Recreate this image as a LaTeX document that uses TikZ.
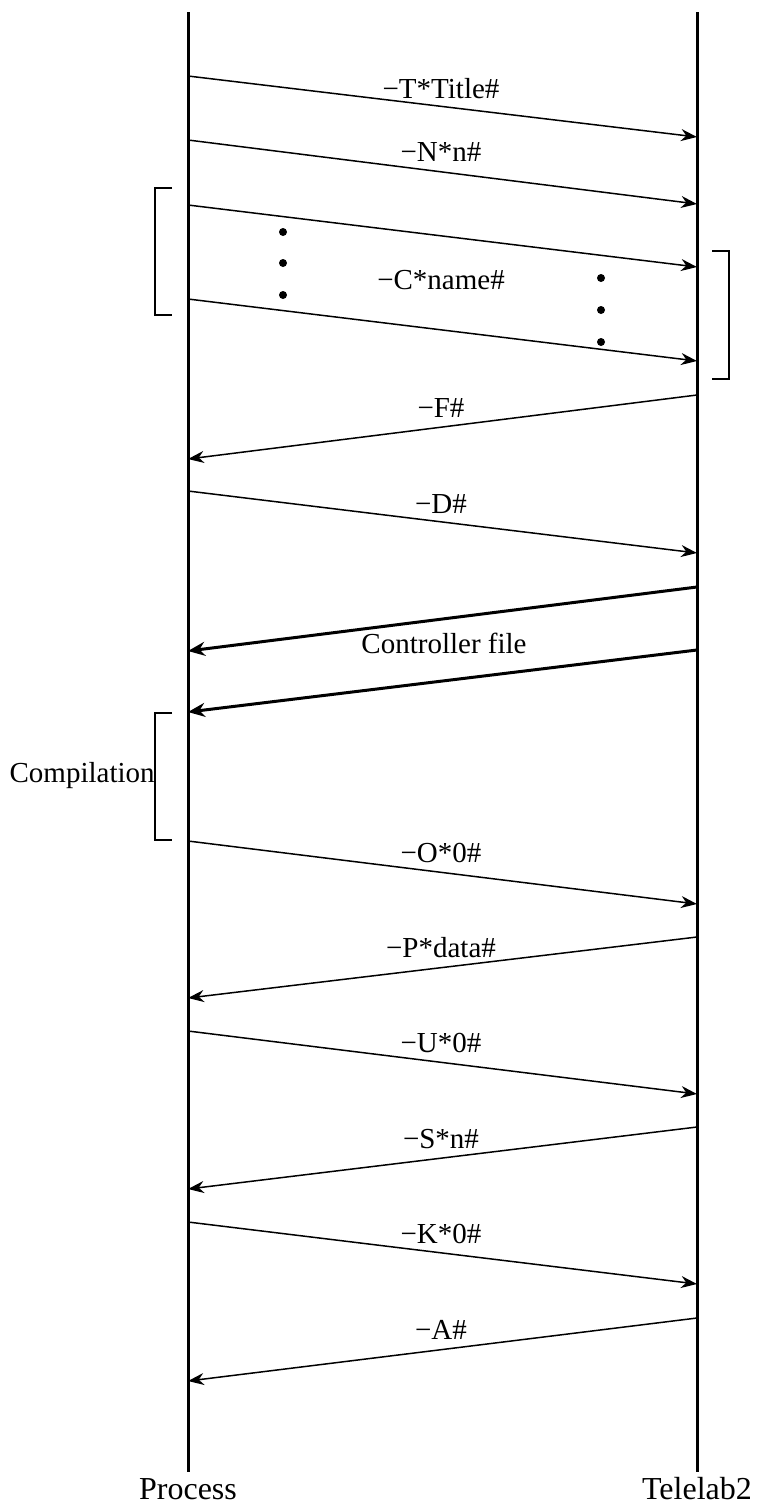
\documentclass[tikz,border=0pt]{standalone}
\usepackage{fontspec}
\setmainfont{Liberation Serif}
\usetikzlibrary{arrows.meta}
\newcommand{\mn}{\char"2212\relax}
\begin{document}
\begin{tikzpicture}[x=0.5pt,y=-0.5pt,
  life/.style={line width=1.5pt},
  msg/.style={line width=0.75pt,-{Stealth[length=8pt,width=6pt]}},
  bigmsg/.style={line width=1.5pt,-{Stealth[length=8.5pt,width=7pt]}},
  lbl/.style={font=\fontsize{14.5}{16}\selectfont,inner sep=0pt,anchor=base},
  party/.style={font=\fontsize{16}{18}\selectfont,inner sep=0pt,anchor=base},
  brk/.style={line width=0.6pt},
  dot/.style={circle,fill=black,inner sep=0pt,minimum size=4pt}]
\useasboundingbox (0,0) rectangle (759,1506);
% lifelines
\coordinate (Ltop) at (188,12); \coordinate (Lbot) at (188,1472);
\coordinate (Rtop) at (697,12); \coordinate (Rbot) at (697,1472);
\draw[life] (Ltop) -- (Lbot);
\draw[life] (Rtop) -- (Rbot);
\node[party] (proc) at (188,1499) {Process};
\node[party] (tele) at (697,1499) {Telelab2};
% message end points
\foreach \n/\ly/\ry in {m1/76/137, m2/140/204, m3/205/267, m4/299/361, m5/459/395, m6/491/553, m7/651/587, m8/712/650, m9/841/904, m10/998/937, m11/1031/1094, m12/1189/1127, m13/1222/1284, m14/1381/1318}{
  \coordinate (\n L) at (188,\ly);
  \coordinate (\n R) at (697,\ry);
}
\draw[msg] (m1L) -- (m1R);
\draw[msg] (m2L) -- (m2R);
\draw[msg] (m3L) -- (m3R);
\draw[msg] (m4L) -- (m4R);
\draw[msg] (m5R) -- (m5L);
\draw[msg] (m6L) -- (m6R);
\draw[bigmsg] (m7R) -- (m7L);
\draw[bigmsg] (m8R) -- (m8L);
\draw[msg] (m9L) -- (m9R);
\draw[msg] (m10R) -- (m10L);
\draw[msg] (m11L) -- (m11R);
\draw[msg] (m12R) -- (m12L);
\draw[msg] (m13L) -- (m13R);
\draw[msg] (m14R) -- (m14L);
% labels
\node[lbl] (t1) at (441,98) {\mn T*Title\#};
\node[lbl] (t2) at (441,161) {\mn N*n\#};
\node[lbl] (t4) at (441,289) {\mn C*name\#};
\node[lbl] (t5) at (441,417) {\mn F\#};
\node[lbl] (t6) at (441,513) {\mn D\#};
\node[lbl] (t8) at (444,653) {Controller file};
\node[lbl] (t9) at (441,862) {\mn O*0\#};
\node[lbl] (t10) at (441,957) {\mn P*data\#};
\node[lbl] (t11) at (441,1052) {\mn U*0\#};
\node[lbl] (t12) at (441,1148) {\mn S*n\#};
\node[lbl] (t13) at (441,1243) {\mn K*0\#};
\node[lbl] (t14) at (441,1339) {\mn A\#};
% dots
\node[dot] (d1) at (283,232) {};
\node[dot] (d2) at (283,263) {};
\node[dot] (d3) at (283,295) {};
\node[dot] (d4) at (601,278) {};
\node[dot] (d5) at (601,310) {};
\node[dot] (d6) at (601,342) {};
% brackets
\draw[brk] (172,188) -- (155,188) -- (155,315) -- (172,315);
\draw[brk] (712,251) -- (729,251) -- (729,379) -- (712,379);
\draw[brk] (172,713) -- (155,713) -- (155,840) -- (172,840);
\node[lbl,anchor=base east] (comp) at (155,782) {Compilation};
\end{tikzpicture}
\end{document}
